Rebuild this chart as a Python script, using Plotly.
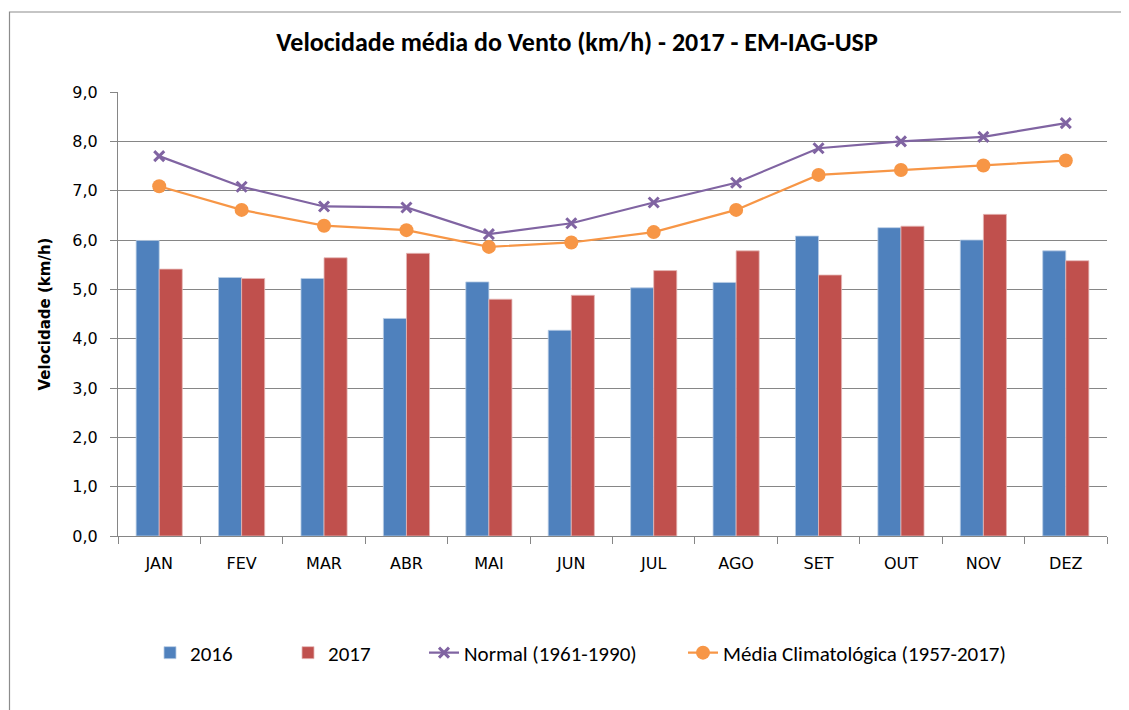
import plotly.graph_objects as go

months = ["JAN", "FEV", "MAR", "ABR", "MAI", "JUN", "JUL", "AGO", "SET", "OUT", "NOV", "DEZ"]
v2016 = [5.99, 5.24, 5.22, 4.41, 5.15, 4.17, 5.03, 5.14, 6.08, 6.25, 6.00, 5.78]
v2017 = [5.41, 5.22, 5.64, 5.73, 4.80, 4.88, 5.38, 5.78, 5.29, 6.28, 6.52, 5.58]
normal = [7.70, 7.08, 6.68, 6.66, 6.12, 6.34, 6.76, 7.16, 7.86, 8.00, 8.09, 8.37]
climat = [7.09, 6.61, 6.29, 6.20, 5.86, 5.95, 6.16, 6.61, 7.32, 7.42, 7.51, 7.61]

OFF = 8  # page body margin
W, H = 1129 - OFF, 710 - OFF
ML, MR, MT, MB = 118 - OFF, 22, 92 - OFF, 174
pw, ph = W - ML - MR, H - MT - MB

def px(x):  # screen x -> paper
    return (x - OFF - ML) / pw

def py(y):  # screen y -> paper
    return (H - MB - (y - OFF)) / ph

label_font = "Tahoma, 'DejaVu Sans', Verdana, sans-serif"
narrow_font = "Calibri, Carlito, 'Liberation Sans', Arial, sans-serif"

fig = go.Figure()
fig.add_trace(go.Bar(x=months, y=v2016, name="2016", legend="legend",
                     marker=dict(color="#4F81BD", line=dict(color="#B9CDE5", width=0.8))))
fig.add_trace(go.Bar(x=months, y=v2017, name="2017", legend="legend2",
                     marker=dict(color="#C0504D", line=dict(color="#E6B9B8", width=0.8))))
fig.add_trace(go.Scatter(x=months, y=normal, name="Normal (1961-1990)", mode="lines+markers",
                         legend="legend3",
                         line=dict(color="#8064A2", width=2.2),
                         marker=dict(symbol="x-thin", size=10, color="#8064A2",
                                     line=dict(color="#8064A2", width=3))))
fig.add_trace(go.Scatter(x=months, y=climat, name="Média Climatológica (1957-2017)", mode="lines+markers",
                         legend="legend4",
                         line=dict(color="#F79646", width=2.2),
                         marker=dict(symbol="circle", size=14, color="#F79646")))

def leg(xs):
    return dict(orientation="h", x=px(xs), xanchor="left", y=py(653), yanchor="middle",
                font=dict(family=narrow_font, size=21, color="black"),
                itemwidth=30, bgcolor="rgba(0,0,0,0)", borderwidth=0)

fig.update_layout(
    width=W, height=H,
    margin=dict(l=ML, r=MR, t=MT, b=MB),
    paper_bgcolor="white", plot_bgcolor="white",
    separators=",.",
    barmode="group", bargap=0.44, bargroupgap=0,
    title=dict(text="<b>Velocidade média do Vento (km/h) - 2017 - EM-IAG-USP</b>",
               x=(577 - OFF) / W, xref="container", xanchor="center",
               y=1 - (42 - OFF) / H, yref="container", yanchor="middle",
               font=dict(family=narrow_font, size=26, color="black")),
    showlegend=True,
    legend=leg(150), legend2=leg(288), legend3=leg(424), legend4=leg(683),
    font=dict(family=label_font, color="black"),
)
fig.update_xaxes(range=[-0.5, 11.5], showline=True, linecolor="#868686", linewidth=1,
                 ticks="outside", tickson="boundaries", ticklen=7, tickcolor="#868686",
                 ticklabelstandoff=13,
                 tickfont=dict(family=label_font, size=16, color="black"),
                 showgrid=False)
fig.update_yaxes(range=[0, 9], dtick=1, tickformat=".1f",
                 showline=True, linecolor="#868686", linewidth=1,
                 ticks="outside", ticklen=7, tickcolor="#868686",
                 ticklabelstandoff=9,
                 showgrid=True, gridcolor="#868686", gridwidth=1,
                 tickfont=dict(family=label_font, size=16, color="black"),
                 title=dict(text="<b>Velocidade (km/h)</b>", standoff=18,
                            font=dict(family=label_font, size=15, color="black")),
                 zeroline=False)

# outer chart border (left and top edges visible, rest cropped)
fig.add_shape(type="rect", xref="paper", yref="paper",
              x0=px(9.5), x1=px(1129 + 20), y0=py(710 + 20), y1=py(12),
              line=dict(color="#8C8C8C", width=1.2), fillcolor="rgba(0,0,0,0)", layer="below")

fig.write_html("out.html")
